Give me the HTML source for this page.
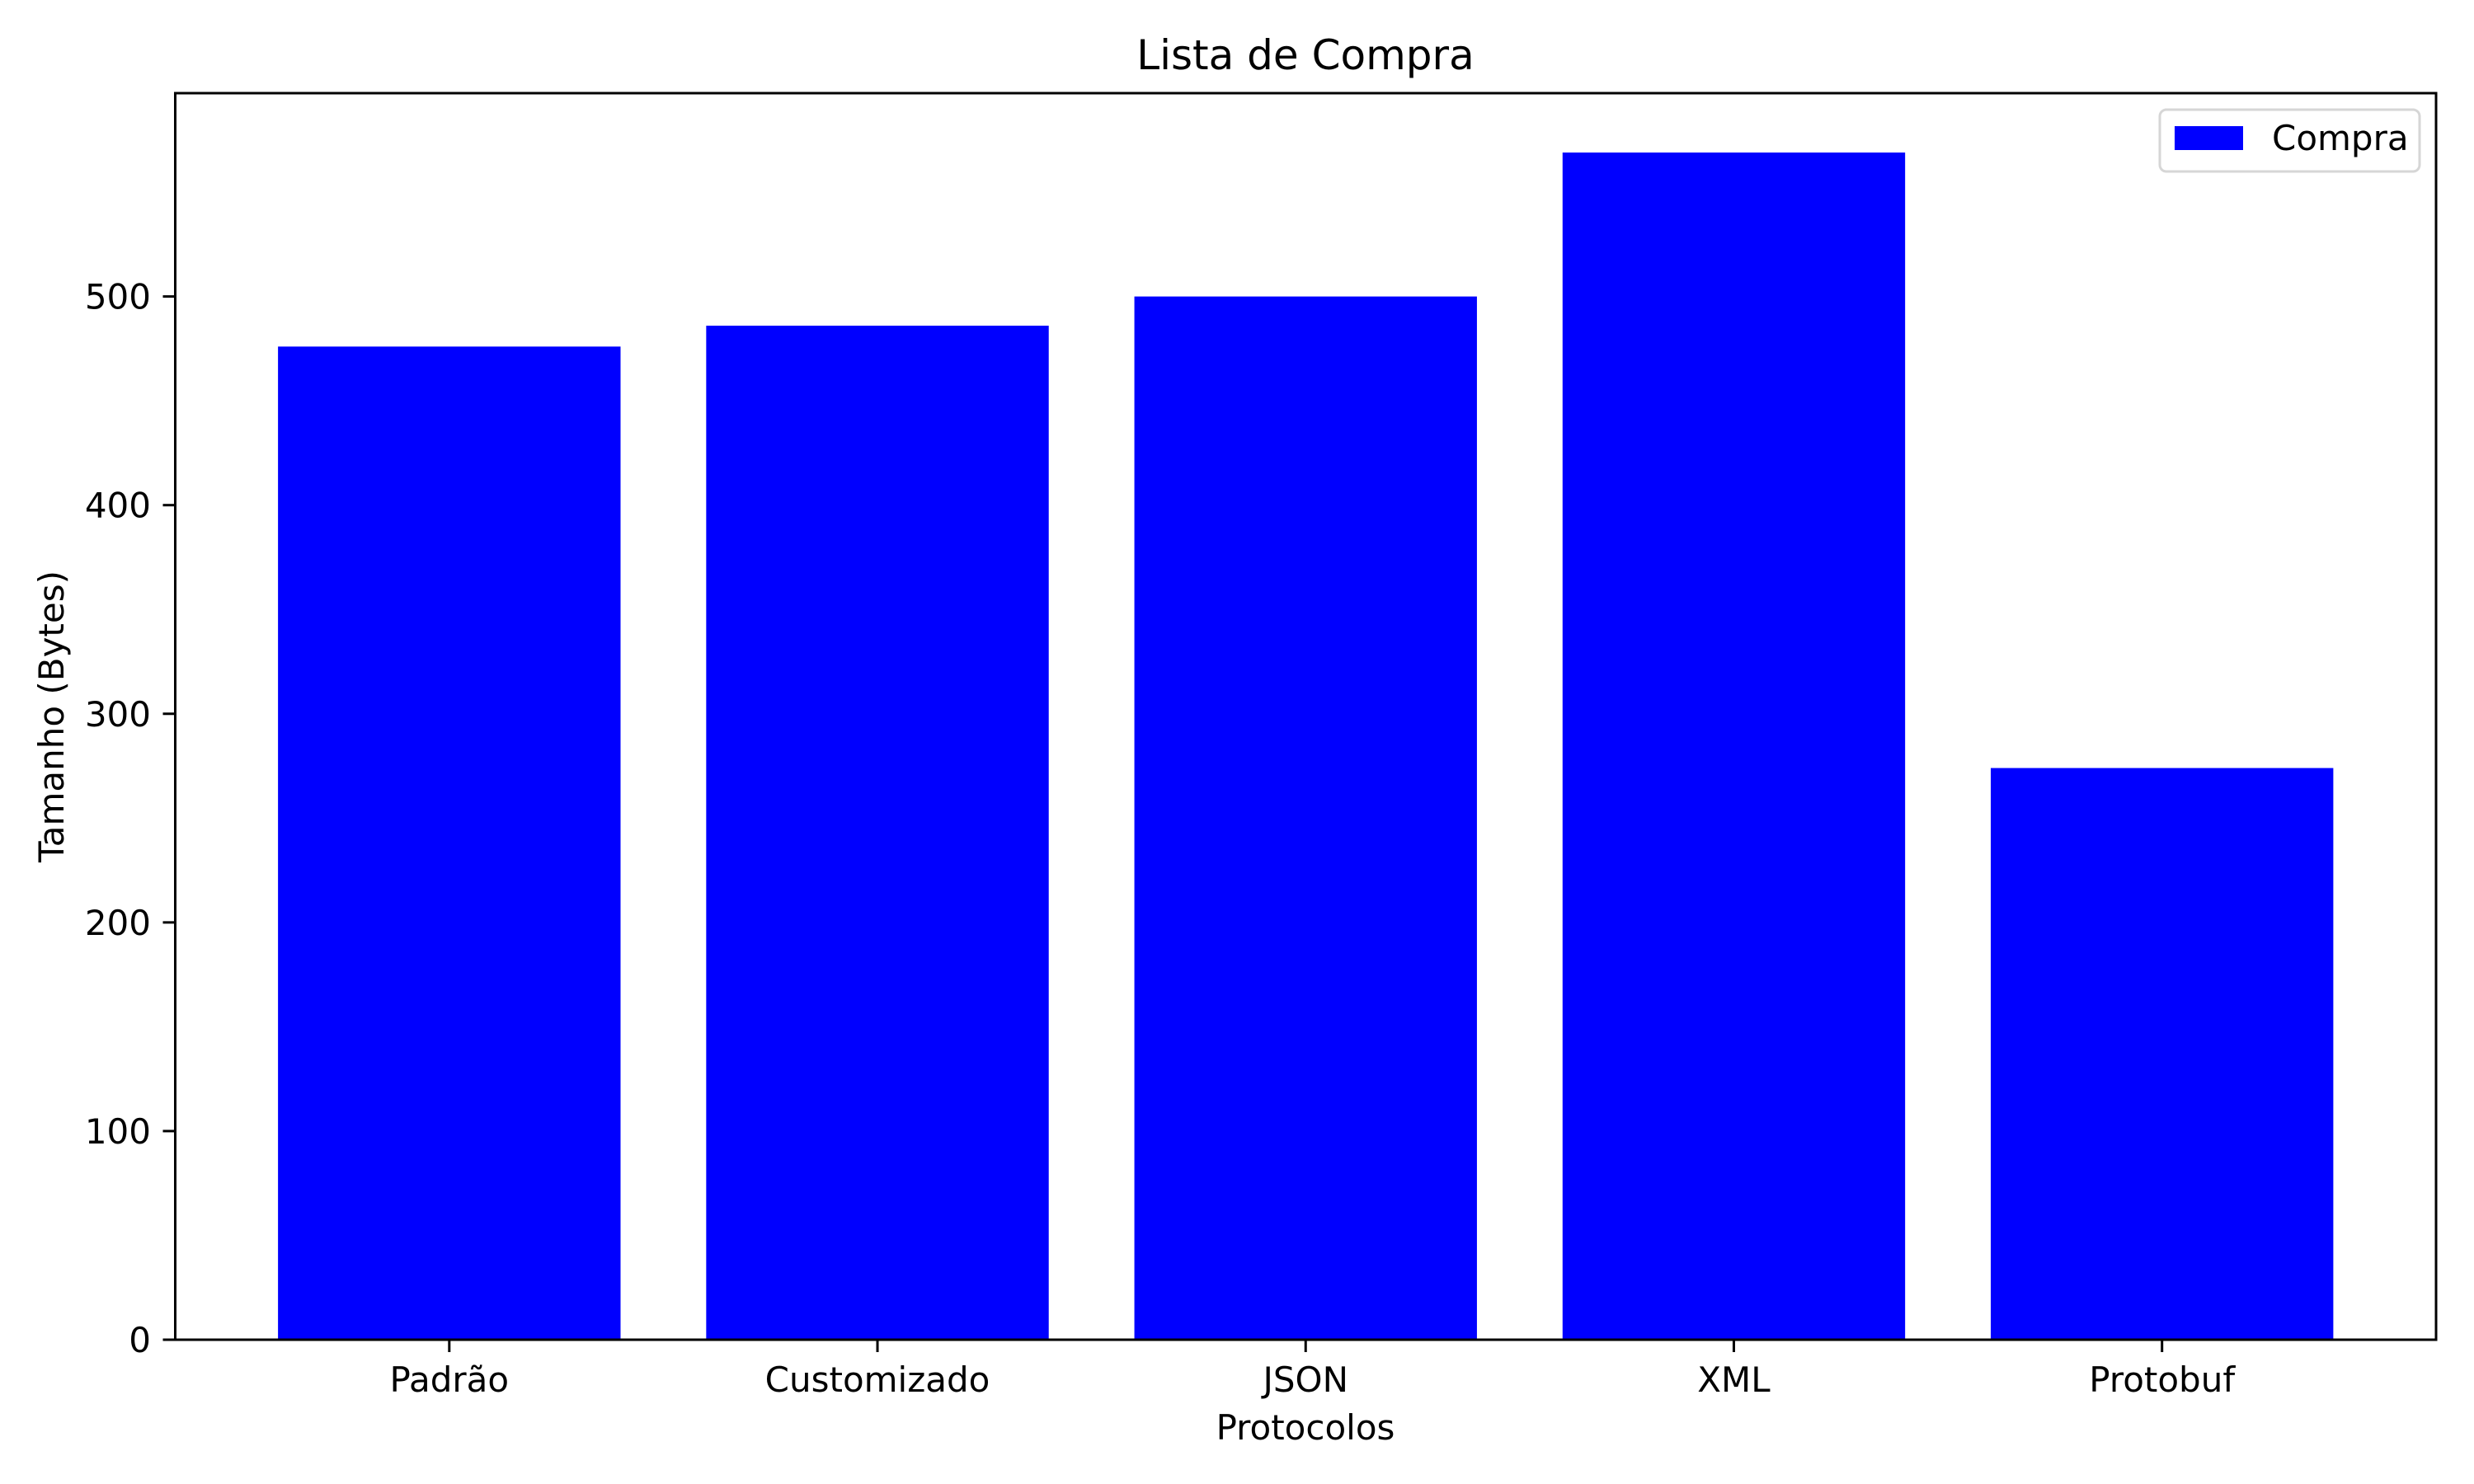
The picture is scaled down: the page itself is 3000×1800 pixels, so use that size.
<!DOCTYPE html>
<html><head><meta charset="utf-8"><style>
html,body{margin:0;padding:0;background:#fff}
svg{display:block;font-family:"DejaVu Sans","Liberation Sans",sans-serif}
</style></head><body>
<svg id="chart" width="3000" height="1800" viewBox="0 0 3000 1800" xmlns="http://www.w3.org/2000/svg">
<rect x="0" y="0" width="3000" height="1800" fill="#fff"/>
<text x="1583" y="84" font-size="50" text-anchor="middle">Lista de Compra</text>
<g id="plot"></g>
<text x="1583" y="1746" font-size="42" text-anchor="middle">Protocolos</text>
<text transform="translate(77,869) rotate(-90)" font-size="42" text-anchor="middle">Tamanho (Bytes)</text>
<g>
<rect x="2619" y="133" width="315" height="75" rx="8" fill="#fff" stroke="#d6d6d6" stroke-width="3"/>
<rect x="2637" y="153" width="83" height="29" fill="#0000ff"/>
<text x="2755" y="182" font-size="42">Compra</text>
</g>
</svg>
<script>
const categories = ["Padrão","Customizado","JSON","XML","Protobuf"];
const values = [476, 486, 500, 569, 274];
const yTicks = [0,100,200,300,400,500];

const L=212.5, R=2954, T=113, B=1625;
const xmin=-0.64, xmax=categories.length-1+0.64;
const ymax=Math.max(...values)*1.05;
const xs=v=>L+(v-xmin)/(xmax-xmin)*(R-L);
const ys=v=>B-v/ymax*(B-T);
const NS="http://www.w3.org/2000/svg";
const g=document.getElementById('plot');
function mk(tag,attrs){const e=document.createElementNS(NS,tag);for(const k in attrs)e.setAttribute(k,attrs[k]);g.appendChild(e);return e;}
const bw=(xs(0.8)-xs(0));
values.forEach((v,i)=>{
  const r=mk('rect',{x:xs(i)-bw/2,y:ys(v),width:bw,height:B-ys(v),fill:'#0000ff'});
  
  
});
categories.forEach((c,i)=>{
  const t=mk('line',{x1:xs(i),x2:xs(i),y1:B,y2:B+15,stroke:'#000','stroke-width':3});
  
  
  const l=mk('text',{x:xs(i),y:1688,'font-size':42,'text-anchor':'middle'});
  l.textContent=c;
  
  
});
yTicks.forEach(v=>{
  const t=mk('line',{x1:L-15,x2:L,y1:ys(v),y2:ys(v),stroke:'#000','stroke-width':3});
  
  
  const l=mk('text',{x:183,y:ys(v)+15,'font-size':42,'text-anchor':'end'});
  l.textContent=v;
  
  
});
const f=mk('rect',{x:L,y:T,width:R-L,height:B-T,fill:'none',stroke:'#000','stroke-width':3});


</script>
</body></html>
